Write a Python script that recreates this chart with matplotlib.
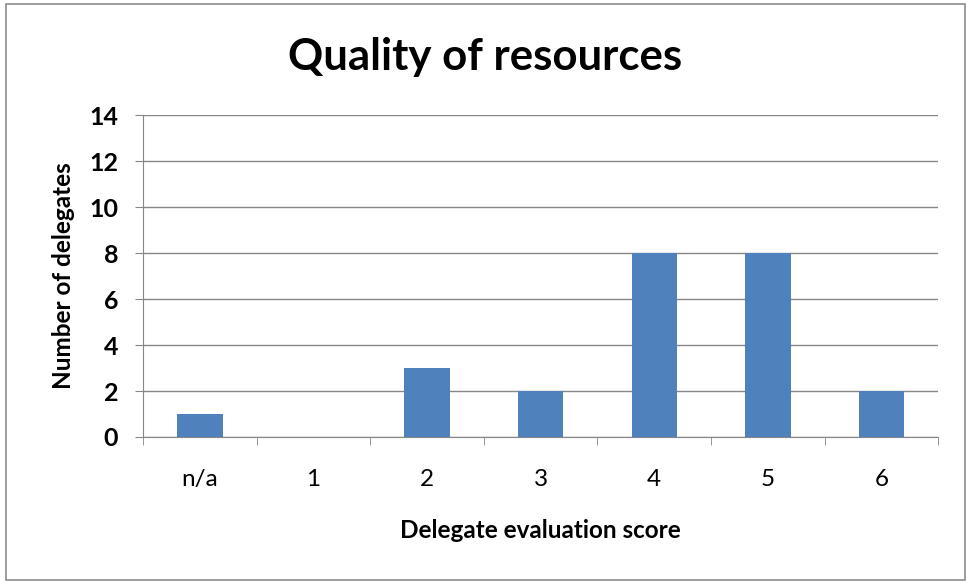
import numpy as np
import matplotlib.pyplot as plt
from matplotlib.patches import Rectangle

# dati
categories = ['n/a', '1', '2', '3', '4', '5', '6']
delegates = [1, 0, 3, 2, 8, 8, 2]
y_ticks = [0, 2, 4, 6, 8, 10, 12, 14]

bar_color = '#4F81BD'
grid_color = '#868686'

fig = plt.figure(figsize=(9.71, 5.85), dpi=100)
ax = fig.add_axes([0.1473, 0.253, 0.819, 0.550])

x = np.arange(len(categories))
ax.bar(x, delegates, width=0.4, color=bar_color, zorder=3)

ax.set_xlim(-0.5, len(categories) - 0.5)
ax.set_ylim(0, 14)
ax.set_yticks(y_ticks)
ax.set_yticklabels([str(v) for v in y_ticks], family='Lato',
                   fontweight='bold', fontsize=18)
ax.yaxis.grid(True, color=grid_color, linewidth=1, zorder=0)

# etichette x al centro, tacche tra le categorie
ax.set_xticks(x)
ax.set_xticklabels(categories, family='Lato', fontsize=17.5)
ax.set_xticks(np.arange(-0.5, len(categories), 1), minor=True)
ax.tick_params(axis='x', which='major', length=0, pad=23)
ax.tick_params(axis='x', which='minor', length=6, color=grid_color)
ax.tick_params(axis='y', length=6, color=grid_color, pad=12)

for s in ['top', 'right']:
    ax.spines[s].set_visible(False)
for s in ['left', 'bottom']:
    ax.spines[s].set_color(grid_color)

ax.set_xlabel('Delegate evaluation score', family='Lato', fontweight='bold',
              fontsize=17.5, labelpad=21)
ax.set_ylabel('Number of delegates', family='Lato', fontweight='bold',
              fontsize=17.5, labelpad=10)

fig.text(0.5, 0.902, 'Quality of resources', family='Lato', fontweight='bold',
         fontsize=31.5, ha='center', va='center')

# bordo esterno del grafico
fig.patches.append(Rectangle((0.006, 0.008), 0.988, 0.985, transform=fig.transFigure,
                             fill=False, edgecolor='#8C8C8C', linewidth=1.2))

fig.savefig('out.png', dpi=100)
